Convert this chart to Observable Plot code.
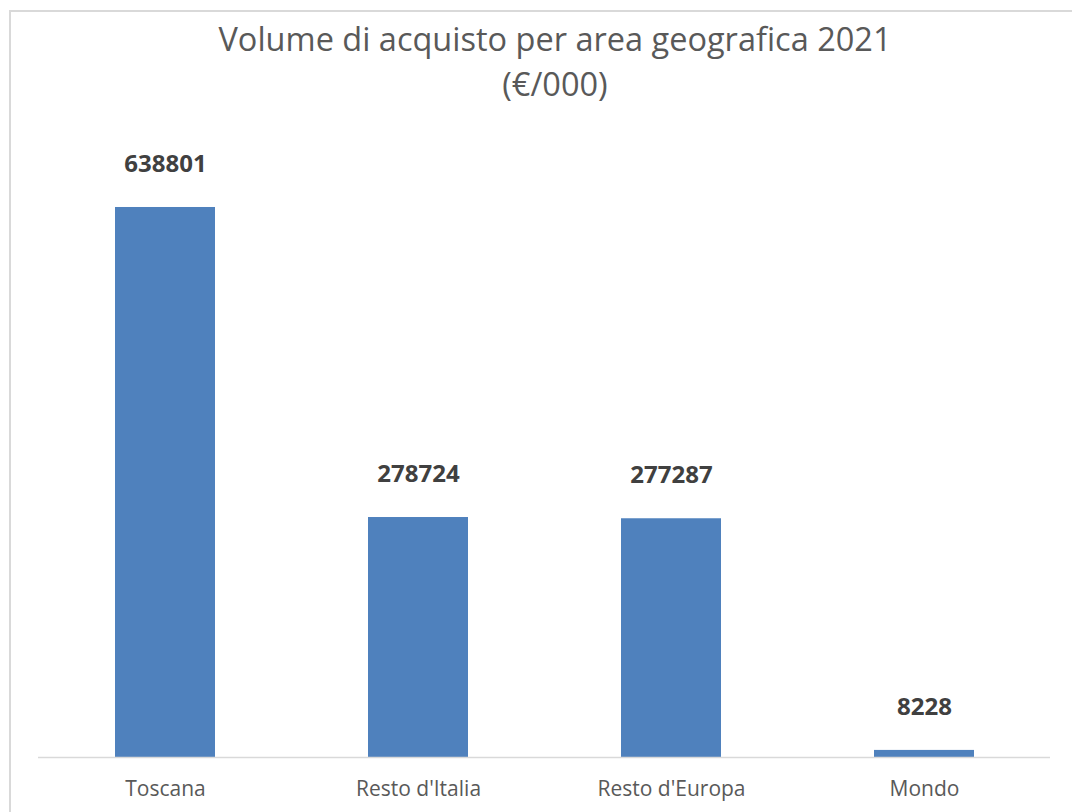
<!DOCTYPE html>
<html>
<head>
<meta charset="utf-8">
<script src="https://cdn.jsdelivr.net/npm/d3@7"></script>
<script src="https://cdn.jsdelivr.net/npm/@observablehq/plot@0.6"></script>
<style>
  html, body { margin: 0; padding: 0; background: #fff; overflow: hidden; }
  #page { position: relative; width: 1072px; height: 812px; overflow: hidden; }
  #frame { position: absolute; left: 9px; top: 10px; width: 1100px; height: 850px;
           border: 2px solid #d9d9d9; box-sizing: border-box; }
  #title { position: absolute; left: 0; top: 16px; width: 1110px; text-align: center;
           font-family: "Open Sans", sans-serif; font-size: 32.5px; line-height: 45px;
           color: #595959; }
  #chart { position: absolute; left: 0; top: 120px; }
</style>
</head>
<body>
<div id="page">
  <div id="frame"></div>
  <div id="title">Volume di acquisto per area geografica 2021<br>(€/000)</div>
  <div id="chart"></div>
</div>
<script>
const categories = ["Toscana", "Resto d'Italia", "Resto d'Europa", "Mondo"];
const values = [638801, 278724, 277287, 8228];

const data = categories.map((c, i) => ({category: c, value: values[i]}));

const chart = Plot.plot({
  width: 1072,
  height: 692,
  marginLeft: 38,
  marginRight: 22,
  marginTop: 34.3,
  marginBottom: 55,
  style: {background: "transparent", overflow: "visible"},
  x: {domain: categories, paddingInner: 0.605, paddingOuter: 0.3025, label: null},
  y: {domain: [0, 700000], axis: null},
  marks: [
    Plot.barY(data, {x: "category", y: "value", fill: "#4f81bd"}),
    Plot.ruleY([0], {stroke: "#d9d9d9", strokeWidth: 1.5}),
    Plot.text(data, {
      x: "category", y: "value", text: d => String(d.value),
      dy: -43, fill: "#404040", fontWeight: "bold", fontSize: 24,
      fontFamily: "Open Sans"
    }),
    Plot.axisX({
      tickSize: 0, tickPadding: 24, fontSize: 21, fill: "#595959",
      fontFamily: "Open Sans", label: null
    })
  ]
});
document.getElementById("chart").appendChild(chart);
</script>
</body>
</html>
